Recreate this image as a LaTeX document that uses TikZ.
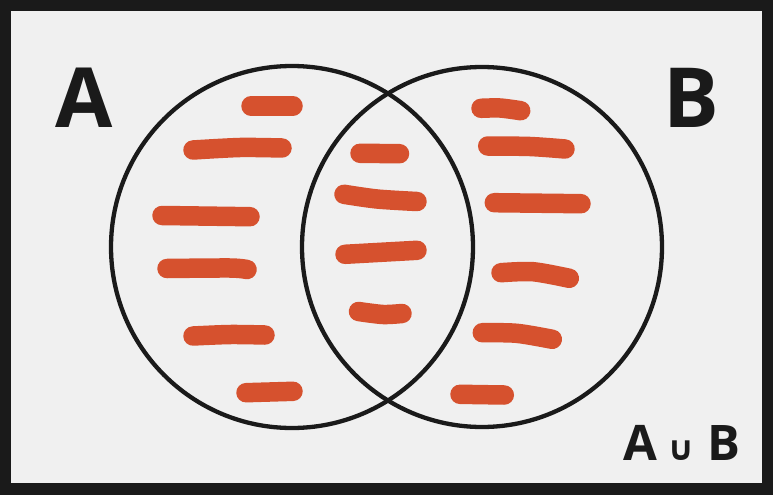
\documentclass[tikz,border=0pt]{standalone}
\usepackage{fontspec}
\setmainfont{Open Sans}
\newfontfamily\symfont{DejaVu Sans}
\definecolor{frame}{RGB}{26,26,26}
\definecolor{paper}{RGB}{240,240,240}
\definecolor{mark}{RGB}{214,81,46}
\begin{document}
\begin{tikzpicture}[x=1pt,y=-1pt,
  stroke/.style={draw=mark,line width=19.5pt,line cap=round,line join=round},
  ring/.style={draw=frame,line width=4.3pt},
  big/.style={font=\fontsize{83}{83}\selectfont\bfseries,text=frame,inner sep=0pt,anchor=base},
  small/.style={font=\fontsize{49}{49}\selectfont\bfseries,text=frame,inner sep=0pt,anchor=base}]
\useasboundingbox (0,0) rectangle (773,495);
\fill[frame] (0,0) rectangle (773,495);
\fill[paper] (11,11) rectangle (762,483);
% circles
\draw[ring] (292,247) circle[radius=181];
\draw[ring] (482,247) circle[radius=180];
% left strokes
\draw[stroke] (251,106) -- (293,106);
\draw[stroke] plot[smooth] coordinates {(193,150) (240,147.5) (282,148)};
\draw[stroke] (162,215.5) -- (250,216.7);
\draw[stroke] plot[smooth] coordinates {(167,268.5) (230,268) (247,269.5)};
\draw[stroke] plot[smooth] coordinates {(193,336) (230,334.5) (265,335)};
\draw[stroke] (246,392.7) -- (293,391.3);
% middle strokes
\draw[stroke] (360,153.3) -- (399.5,153.7);
\draw[stroke] plot[smooth] coordinates {(344,194.3) (377,199) (417,201.5)};
\draw[stroke] (345,254.3) -- (417,250.3);
\draw[stroke] plot[smooth] coordinates {(358.5,311.5) (383,314.5) (402,313.5)};
% right strokes
\draw[stroke] plot[smooth] coordinates {(481,108.3) (500,108) (520.7,110.7)};
\draw[stroke] plot[smooth] coordinates {(487.7,146) (530,146.5) (565,149)};
\draw[stroke] (494.3,202.7) -- (581,203.7);
\draw[stroke] plot[smooth] coordinates {(501,272.7) (533,271.7) (569.3,278.3)};
\draw[stroke] plot[smooth] coordinates {(482.3,332.7) (516.7,333.3) (552.3,339.3)};
\draw[stroke] (460,394.3) -- (504.3,395);
% labels
\node[big] (labA) at (84.5,127) {A};
\node[big] (labB) at (691,127) {B};
\node[small] (uA) at (640,460) {A};
\node[inner sep=0pt,anchor=base,text=frame,font=\symfont\bfseries\fontsize{34}{34}\selectfont] (uCup) at (681,460) {∪};
\node[small] (uB) at (724,460) {B};
\end{tikzpicture}
\end{document}
